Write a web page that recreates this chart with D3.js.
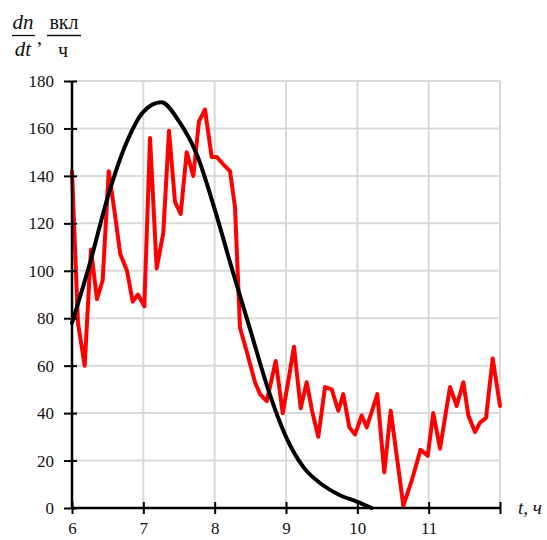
<!DOCTYPE html>
<html>
<head>
<meta charset="utf-8">
<script src="https://cdn.jsdelivr.net/npm/d3@7"></script>
<style>
  html, body { margin: 0; padding: 0; background: #fff; }
  svg { display: block; }
  text { font-family: "Liberation Serif", "Times New Roman", serif; }
</style>
</head>
<body>
<svg id="chart" width="547" height="540"></svg>
<script>
// ---- data ----
const xTicks = [6, 7, 8, 9, 10, 11, 12];
const xTickLabels = ["6", "7", "8", "9", "10", "11", ""];
const yTicks = [0, 20, 40, 60, 80, 100, 120, 140, 160, 180];

// observed rate (red)
const obsT = [6.000, 6.084, 6.178, 6.266, 6.350, 6.430, 6.515, 6.596, 6.677, 6.771,
              6.851, 6.925, 7.014, 7.094, 7.187, 7.280, 7.360, 7.444, 7.524, 7.608,
              7.701, 7.780, 7.865, 7.958, 8.029, 8.117, 8.215, 8.285, 8.355, 8.449,
              8.566, 8.636, 8.730, 8.856, 8.954, 9.035, 9.112, 9.206, 9.290, 9.365,
              9.453, 9.547, 9.641, 9.733, 9.803, 9.888, 9.968, 10.061, 10.131, 10.206,
              10.280, 10.378, 10.468, 10.552, 10.645, 10.767, 10.886, 10.987, 11.065, 11.159,
              11.229, 11.299, 11.393, 11.486, 11.556, 11.650, 11.720, 11.804, 11.898, 12.000];
const obsV = [142, 78, 60, 109, 88, 96, 142, 125, 107, 100,
              87, 90, 85, 156, 101, 116, 159, 129, 124, 150,
              140, 163, 168, 148, 148, 145, 142, 127, 76, 66,
              53, 48, 45, 62, 40, 54, 68, 42, 53, 41,
              30, 51, 50, 41, 48, 34, 31, 39, 34, 41,
              48, 15, 41, 22, 1, 12, 24.5, 22, 40, 25,
              38, 51, 43, 53, 39, 32, 36, 38, 63, 43];

// model curve (black)
const modelT = [6.0, 6.25, 6.5, 6.75, 7.0, 7.25, 7.5, 7.75, 8.0, 8.25, 8.5, 8.75, 9.0, 9.25, 9.5, 9.75, 10.0, 10.2];
const modelV = [78, 103, 131, 153, 167, 171, 163, 149, 126, 100, 75, 50, 30, 17, 10, 5.5, 2.6, 0];

// ---- chart ----
const svg = d3.select("#chart");
const x = d3.scaleLinear().domain([6, 12]).range([72, 500]);
const y = d3.scaleLinear().domain([0, 180]).range([508, 81]);

const gridColor = "#d9d9d9";

// grid
svg.append("g").selectAll("line.h").data(yTicks.filter(d => d > 0)).join("line")
  .attr("x1", x(6)).attr("x2", x(12))
  .attr("y1", d => y(d)).attr("y2", d => y(d))
  .attr("stroke", gridColor).attr("stroke-width", 2);
svg.append("g").selectAll("line.v").data(xTicks.filter(d => d > 6)).join("line")
  .attr("x1", d => x(d)).attr("x2", d => x(d))
  .attr("y1", y(0)).attr("y2", y(180))
  .attr("stroke", gridColor).attr("stroke-width", 2);

// series
const obs = obsT.map((t, i) => [t, obsV[i]]);
const model = modelT.map((t, i) => [t, modelV[i]]);

svg.append("path").datum(obs)
  .attr("fill", "none").attr("stroke", "#ff0000").attr("stroke-width", 4)
  .attr("stroke-linejoin", "round").attr("stroke-linecap", "round")
  .attr("d", d3.line().x(d => x(d[0])).y(d => y(d[1])));

svg.append("path").datum(model)
  .attr("fill", "none").attr("stroke", "#000").attr("stroke-width", 4)
  .attr("stroke-linejoin", "round").attr("stroke-linecap", "round")
  .attr("d", d3.line().x(d => x(d[0])).y(d => y(d[1])).curve(d3.curveMonotoneX));

// axes
const yAxis = svg.append("g").attr("transform", `translate(${x(6)},0)`)
  .call(d3.axisLeft(y).tickValues(yTicks).tickSize(8).tickPadding(10).tickFormat(d3.format("d")));
yAxis.select(".domain").remove();
yAxis.selectAll(".tick line").attr("x1", 5).attr("x2", -8).attr("stroke", "#000").attr("stroke-width", 2);
yAxis.selectAll(".tick text").attr("font-size", 17).attr("fill", "#111")
  .style("font-family", "'Liberation Serif', serif");
yAxis.append("line").attr("x1", 0).attr("x2", 0).attr("y1", y(0)).attr("y2", y(180))
  .attr("stroke", "#000").attr("stroke-width", 2.5);

const xAxis = svg.append("g").attr("transform", `translate(0,${y(0)})`)
  .call(d3.axisBottom(x).tickValues(xTicks).tickSize(6).tickFormat((d, i) => xTickLabels[i]));
xAxis.select(".domain").remove();
xAxis.selectAll(".tick line").attr("y1", -6).attr("y2", 6).attr("stroke", "#000").attr("stroke-width", 2);
xAxis.selectAll(".tick text").attr("font-size", 17).attr("fill", "#111")
  .attr("y", 26).attr("dy", 0)
  .style("font-family", "'Liberation Serif', serif");
xAxis.append("line").attr("x1", x(6)).attr("x2", x(12)).attr("y1", 0).attr("y2", 0)
  .attr("stroke", "#000").attr("stroke-width", 2.5);

// x-axis title
svg.append("text").attr("x", 518).attr("y", 514)
  .attr("font-size", 19).attr("font-style", "italic").attr("fill", "#111")
  .text("t, ч");

// y-axis title: dn/dt, вкл/ч
const ttl = svg.append("g").attr("fill", "#111");
ttl.append("text").attr("x", 23).attr("y", 29).attr("text-anchor", "middle")
  .attr("font-size", 21).attr("font-style", "italic").text("dn");
ttl.append("line").attr("x1", 12).attr("x2", 35).attr("y1", 35.5).attr("y2", 35.5)
  .attr("stroke", "#111").attr("stroke-width", 1.3);
ttl.append("text").attr("x", 23).attr("y", 56).attr("text-anchor", "middle")
  .attr("font-size", 21).attr("font-style", "italic").text("dt");
ttl.append("text").attr("x", 37).attr("y", 44).attr("font-size", 20).text(",");
ttl.append("text").attr("x", 64).attr("y", 29).attr("text-anchor", "middle")
  .attr("font-size", 20).text("вкл");
ttl.append("line").attr("x1", 47).attr("x2", 81).attr("y1", 35.5).attr("y2", 35.5)
  .attr("stroke", "#111").attr("stroke-width", 1.3);
ttl.append("text").attr("x", 63).attr("y", 57).attr("text-anchor", "middle")
  .attr("font-size", 20).text("ч");
</script>
</body>
</html>
